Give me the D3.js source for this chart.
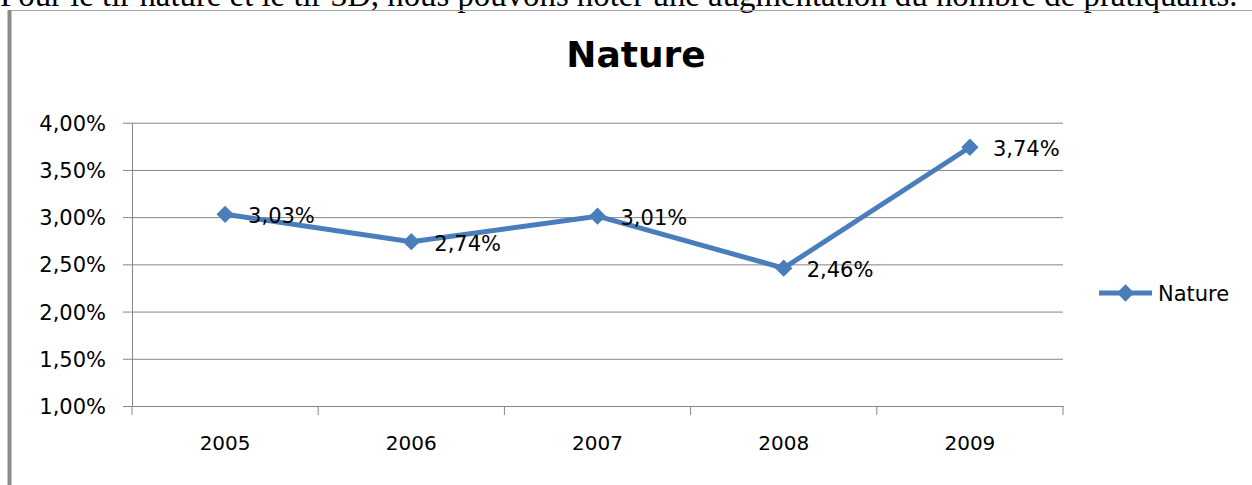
<!DOCTYPE html>
<html>
<head>
<meta charset="utf-8">
<script src="https://cdn.jsdelivr.net/npm/d3@7"></script>
<style>
    body { margin: 0; background: #fff; }
    svg { display: block; }
    text { font-family: "DejaVu Sans", sans-serif; fill: #000; }
</style>
</head>
<body>
<script>
// data
var years = ["2005", "2006", "2007", "2008", "2009"];
var natureValues = [0.0303, 0.0274, 0.0301, 0.0246, 0.0374];
var yTicks = [0.01, 0.015, 0.02, 0.025, 0.03, 0.035, 0.04];
var seriesName = "Nature";
var chartTitle = "Nature";
var introText = "Pour le tir nature et le tir 3D, nous pouvons noter une augmentation du nombre de pratiquants.";

var W = 1252, H = 485;
var margin = {top: 122.7, right: 189, bottom: 79, left: 132}, // plot area inside the frame
    width = W - margin.left - margin.right,
    height = H - margin.top - margin.bottom;

var blue = "#4a7ebb", grid = "#868686";

// french style percent: 3,03%
var fr = d3.formatLocale({decimal: ",", thousands: " ", grouping: [3], currency: ["", " €"]});
var pct = fr.format(".2%");

var svg = d3.select("body").append("svg")
    .attr("width", W)
    .attr("height", H);

// paragraph text cut by the top of the picture
var intro = svg.append("text")
    .attr("x", 0)
    .attr("y", 6)
    .style("font-family", "'Liberation Serif', 'Times New Roman', serif")
    .style("font-size", "28px")
    .text(introText);
// fit the sentence to the width seen in the picture
var len = intro.node().getComputedTextLength();
intro.style("font-size", (28 * 1238 / len) + "px");

// chart frame (only the top and left edges show)
svg.append("line")
    .attr("x1", 10).attr("x2", W).attr("y1", 10.5).attr("y2", 10.5)
    .attr("stroke", "#a6a6a6").attr("stroke-width", 1);
svg.append("line")
    .attr("x1", 9.5).attr("x2", 9.5).attr("y1", 10).attr("y2", H)
    .attr("stroke", "#8c8c8c").attr("stroke-width", 4);

// title
svg.append("text")
    .attr("x", 636)
    .attr("y", 67)
    .attr("text-anchor", "middle")
    .style("font-size", "36px")
    .style("font-weight", "bold")
    .text(chartTitle);

var g = svg.append("g")
    .attr("transform", "translate(" + margin.left + "," + margin.top + ")");

var xScale = d3.scaleBand().domain(years).range([0, width]);
var yScale = d3.scaleLinear().domain([0.01, 0.04]).range([height, 0]);

// y axis with gridlines running across the plot
var yAxis = d3.axisLeft(yScale)
    .tickValues(yTicks)
    .tickFormat(pct)
    .tickSize(-width)
    .tickSizeOuter(0)
    .tickPadding(26);

var yg = g.append("g").call(yAxis);
yg.select(".domain").attr("stroke", grid).attr("stroke-width", 1);
yg.selectAll(".tick line")
    .attr("x1", -9)
    .attr("stroke", grid);
yg.selectAll(".tick text")
    .attr("dy", "0.36em")
    .style("font-size", "21px")
    .style("font-family", "'DejaVu Sans', sans-serif");

// x axis: labels in the middle of each band, ticks on band edges
var xAxis = d3.axisBottom(xScale).tickSize(0).tickPadding(30);
var xg = g.append("g")
    .attr("transform", "translate(0," + height + ")")
    .call(xAxis);
xg.select(".domain").attr("stroke", grid);
xg.selectAll(".tick text")
    .style("font-size", "20px")
    .style("font-family", "'DejaVu Sans', sans-serif");

var edges = years.map(function(d) { return xScale(d); })
    .concat([xScale(years[years.length - 1]) + xScale.bandwidth()]);
xg.selectAll(".edge")
    .data(edges)
    .enter()
    .append("line")
    .attr("class", "edge")
    .attr("x1", function(d) { return d; })
    .attr("x2", function(d) { return d; })
    .attr("y1", 0)
    .attr("y2", 9)
    .attr("stroke", grid);

// series line
var pts = years.map(function(d, i) { return {key: d, value: natureValues[i]}; });
var cx = function(d) { return xScale(d.key) + xScale.bandwidth() / 2; };

var line = d3.line()
    .x(cx)
    .y(function(d) { return yScale(d.value); });

g.append("path")
    .datum(pts)
    .attr("fill", "none")
    .attr("stroke", blue)
    .attr("stroke-width", 5)
    .attr("stroke-linejoin", "round")
    .attr("d", line);

var diamond = d3.symbol().type(d3.symbolSquare).size(150);

g.selectAll(".marker")
    .data(pts)
    .enter()
    .append("path")
    .attr("class", "marker")
    .attr("d", diamond)
    .attr("fill", blue)
    .attr("transform", function(d) {
        return "translate(" + cx(d) + "," + yScale(d.value) + ") rotate(45)";
    });

// value labels to the right of each point
g.selectAll(".lbl")
    .data(pts)
    .enter()
    .append("text")
    .attr("class", "lbl")
    .attr("x", function(d) { return cx(d) + 23; })
    .attr("y", function(d) { return yScale(d.value) + 9; })
    .style("font-size", "21px")
    .text(function(d) { return pct(d.value); });

// legend
var lg = svg.append("g").attr("transform", "translate(1099,293)");
lg.append("line")
    .attr("x1", 0).attr("x2", 53)
    .attr("stroke", blue).attr("stroke-width", 5);
lg.append("path")
    .attr("d", diamond)
    .attr("fill", blue)
    .attr("transform", "translate(26.5,0) rotate(45)");
lg.append("text")
    .attr("x", 59)
    .attr("y", 8)
    .style("font-size", "21px")
    .text(seriesName);
</script>
</body>
</html>
